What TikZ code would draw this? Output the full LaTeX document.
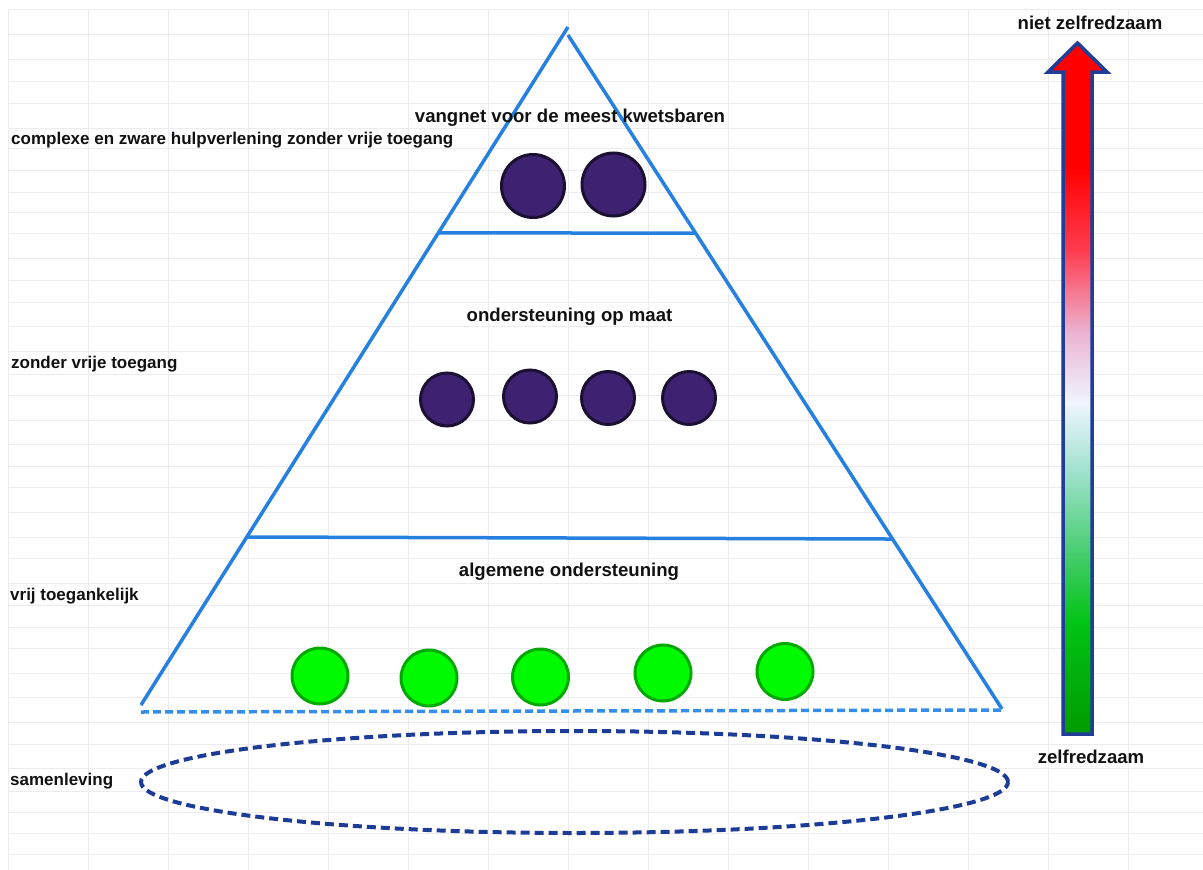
\documentclass[tikz,border=0pt]{standalone}
\usepackage{fontspec}
\setmainfont{Liberation Sans}
\usetikzlibrary{positioning}
\usetikzlibrary{calc}

\definecolor{gridgray}{RGB}{236,236,240}
\definecolor{pyrblue}{RGB}{38,128,224}
\definecolor{baseblue}{RGB}{52,142,234}
\definecolor{ringblue}{RGB}{28,60,150}
\definecolor{arrowedge}{RGB}{32,62,152}
\definecolor{purplefill}{RGB}{62,34,114}
\definecolor{purpleedge}{RGB}{28,16,50}
\definecolor{limefill}{RGB}{0,250,0}
\definecolor{limeedge}{RGB}{0,168,0}
\definecolor{labelblack}{RGB}{17,17,17}

\pgfdeclareverticalshading{zelfshade}{100bp}{color(0bp)=(rgb,255:red,0;green,150;blue,0);
  color(25bp)=(rgb,255:red,0;green,155;blue,0);
  color(33bp)=(rgb,255:red,0;green,195;blue,20);
  color(38bp)=(rgb,255:red,70;green,205;blue,110);
  color(44bp)=(rgb,255:red,160;green,225;blue,205);
  color(49bp)=(rgb,255:red,240;green,245;blue,255);
  color(54bp)=(rgb,255:red,235;green,180;blue,210);
  color(60bp)=(rgb,255:red,255;green,60;blue,80);
  color(66bp)=(rgb,255:red,255;green,0;blue,0);
  color(100bp)=(rgb,255:red,255;green,0;blue,0)}

\tikzset{
  level text/.style={font=\fontsize{18.6}{20}\selectfont\bfseries, text=labelblack, inner sep=0pt, anchor=base},
  side text/.style={font=\fontsize{17}{19}\selectfont\bfseries, text=labelblack, inner sep=0pt, anchor=base west},
  client/.style={circle, draw=purpleedge, fill=purplefill, line width=3pt, inner sep=0pt},
  citizen/.style={circle, draw=limeedge, fill=limefill, line width=3pt, inner sep=0pt, minimum size=56pt},
  pyr/.style={draw=pyrblue, line width=3.5pt},
}

\begin{document}
\begin{tikzpicture}[x=1pt,y=-1pt]
	\useasboundingbox (0,0) rectangle (1203,870);
	
	% Grid
	\foreach \gx in {8,88,...,1200}
		\draw[gridgray, line width=1pt] (\gx,9) -- (\gx,870);
	\foreach \gy in {9,34,59,81,103,128,148,170,192,212,233,258,280,302,326,351,374,395,420,444,466,487,512,537,558,583,605,627,648,673,697,722,744,768,791,812,833,854}
		\draw[gridgray, line width=1pt] (8,\gy) -- (1203,\gy);
	
	% Pyramid
	\coordinate (top l) at (568,27);
	\coordinate (top r) at (568,35);
	\coordinate (base l) at (141,705);
	\coordinate (base r) at (1002,709);
	\draw[pyr] (top l) -- (base l);
	\draw[pyr] (top r) -- (base r);
	
	\coordinate (a) at ($(top l)!0.3038!(base l)$);
	\coordinate (b) at ($(top r)!0.2938!(base r)$);
	\coordinate (c) at ($(top l)!0.7522!(base l)$);
	\coordinate (d) at ($(top r)!0.7478!(base r)$);
	\draw[pyr] (a) -- (b);
	\draw[pyr] (c) -- (d);
	
	\coordinate (floor l) at (141,712);
	\coordinate (floor r) at (1002,710);
	\draw[baseblue, line width=3.5pt, dash pattern=on 8pt off 4pt] (floor l) -- (floor r);
	
	% Society
	\draw[ringblue, line width=4pt, dash pattern=on 9pt off 5pt] (574.5,782) ellipse [x radius=433.5pt, y radius=51pt];
	
	% Levels
	\node[level text] (vangnet) at (570,122) {vangnet voor de meest kwetsbaren};
	\node[level text] (maat) at (569.5,321) {ondersteuning op maat};
	\node[level text] (algemeen) at (569,576) {algemene ondersteuning};
	
	\foreach \cx/\cy [count=\i] in {533/186, 613.5/184.5}
		\node[client, minimum size=63pt] (vang\i) at (\cx,\cy) {};
	\foreach \cx/\cy [count=\i] in {447/399.5, 530/396.5, 608/398, 689/398}
		\node[client, minimum size=53pt] (maat\i) at (\cx,\cy) {};
	\foreach \cx/\cy [count=\i] in {320/676, 429/678, 540.5/677, 663/673, 785/671.5}
		\node[citizen] (alg\i) at (\cx,\cy) {};
	
	% Access
	\node[side text] (complex) at (11,144) {complexe en zware hulpverlening zonder vrije toegang};
	\node[side text] (zonder) at (11,368) {zonder vrije toegang};
	\node[side text] (vrij) at (10,600) {vrij toegankelijk};
	\node[side text] (samen) at (10,785) {samenleving};
	
	% Self-reliance
	\shadedraw[shading=zelfshade, draw=arrowedge, line width=3.5pt, line join=miter]
		(1063,734) -- (1063,72) -- (1048,72) -- (1077.5,43) -- (1107,72) -- (1092,72) -- (1092,734) -- cycle;
	\node[level text] (niet zelf) at (1090,29) {niet zelfredzaam};
	\node[level text] (zelf) at (1091,763) {zelfredzaam};
	
\end{tikzpicture}
\end{document}
